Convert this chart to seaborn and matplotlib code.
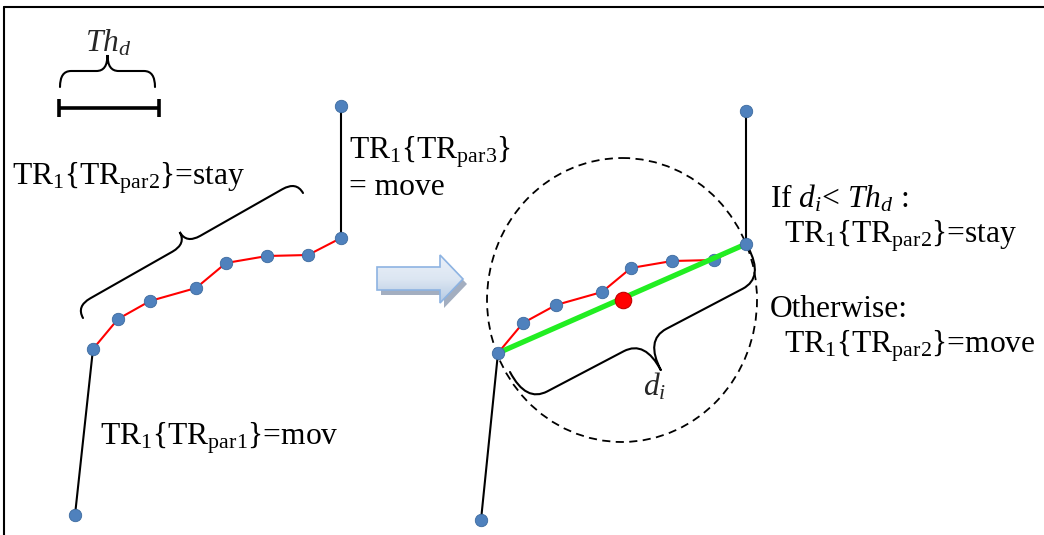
import numpy as np
import matplotlib
matplotlib.use('Agg')
import matplotlib.pyplot as plt
import seaborn as sns
from matplotlib.path import Path
from matplotlib.patches import PathPatch, Ellipse, Polygon
from matplotlib.colors import LinearSegmentedColormap

# ---- data (pixel coordinates) ----
left_x = [75, 93, 118, 150, 196, 226, 267, 308, 341, 341]
left_y = [515, 349, 319, 301, 288, 263, 256, 255, 238, 106]
right_x = [481, 498, 523, 556, 602, 631, 672, 714, 746, 746]
right_y = [520, 353, 323, 305, 292, 268, 261, 260, 244, 111]
center_x = [623]
center_y = [300]

sns.set_style('white')
plt.rcParams['font.family'] = ['Liberation Serif', 'DejaVu Serif']
plt.rcParams['mathtext.fontset'] = 'custom'
plt.rcParams['mathtext.rm'] = 'Liberation Serif'
plt.rcParams['mathtext.it'] = 'Liberation Serif:italic'
plt.rcParams['mathtext.bf'] = 'Liberation Serif:bold'

fig = plt.figure(figsize=(10.44, 5.35), dpi=100)
ax = fig.add_axes([0, 0, 1, 1])

BLUE = '#4f81bd'
BLUE_EDGE = '#3c6a9e'


def trajectory(xs, ys):
    sns.lineplot(x=xs[0:2], y=ys[0:2], sort=False, estimator=None,
                 color='black', lw=1.5, ax=ax, zorder=2)
    sns.lineplot(x=xs[1:9], y=ys[1:9], sort=False, estimator=None,
                 color='#ff0000', lw=1.5, ax=ax, zorder=2)
    sns.lineplot(x=xs[8:10], y=ys[8:10], sort=False, estimator=None,
                 color='black', lw=1.5, ax=ax, zorder=2)
    ends = [0, 1, 8, 9]
    mids = [2, 3, 4, 5, 6, 7]
    sns.scatterplot(x=[xs[i] for i in mids], y=[ys[i] for i in mids], s=80,
                    color=BLUE, edgecolor=BLUE_EDGE, linewidth=0.6, ax=ax,
                    zorder=3)
    sns.scatterplot(x=[xs[i] for i in ends], y=[ys[i] for i in ends], s=80,
                    color=BLUE, edgecolor=BLUE_EDGE, linewidth=0.6, ax=ax,
                    zorder=6)


trajectory(left_x, left_y)
trajectory(right_x, right_y)

# green chord between the ends of the stay-part
sns.lineplot(x=[right_x[1], right_x[8]], y=[right_y[1], right_y[8]],
             sort=False, estimator=None, color='#22ee22', lw=3.8, ax=ax,
             zorder=4)
sns.scatterplot(x=center_x, y=center_y, s=140, color='#ff0000',
                edgecolor='#c00000', linewidth=0.8, ax=ax, zorder=7)

# dashed circle
ax.add_patch(Ellipse((622, 300), 270, 284, fill=False, ls=(0, (4.5, 3)),
                     lw=1.3, color='black', zorder=1))


def brace(p0, p1, h, q):
    p0 = np.array(p0, float)
    p1 = np.array(p1, float)
    d = p1 - p0
    L = np.hypot(*d)
    u = d / L
    n = np.array([-u[1], u[0]])
    loc = [(0, 0), (0, h / 2), (q, h / 2), (L / 2 - q, h / 2),
           (L / 2, h / 2), (L / 2, h), (L / 2, h / 2), (L / 2 + q, h / 2),
           (L - q, h / 2), (L, h / 2), (L, 0)]
    codes = [Path.MOVETO, Path.CURVE3, Path.CURVE3, Path.LINETO,
             Path.CURVE3, Path.CURVE3, Path.CURVE3, Path.CURVE3,
             Path.LINETO, Path.CURVE3, Path.CURVE3]
    pts = [p0 + a * u + b * n for a, b in loc]
    ax.add_patch(PathPatch(Path(pts, codes), fill=False, lw=1.5,
                           color='black', zorder=5, capstyle='round'))


brace((60, 87), (155, 87), -32, 11)
brace((83, 318), (303, 193), -27, 16)
brace((510, 372), (748, 247), 69, 24)

# Th_d scale bar
ax.plot([58, 160], [108, 108], color='black', lw=2.6, solid_capstyle='butt')
ax.plot([59, 59], [99, 117], color='black', lw=2.6, solid_capstyle='butt')
ax.plot([159, 159], [99, 117], color='black', lw=2.6, solid_capstyle='butt')

# block arrow
arrow_pts = [(377, 267), (440, 267), (440, 255), (463, 279), (440, 303),
             (440, 290), (377, 290)]
ax.add_patch(Polygon([(x + 4, y + 5) for x, y in arrow_pts],
                     facecolor='#a3aec0', edgecolor='none', zorder=2))
main = Polygon(arrow_pts, facecolor='none', edgecolor='#8db3e2', lw=1.2,
               zorder=4)
ax.add_patch(main)
grad = np.linspace(0, 1, 100).reshape(-1, 1)
cmap = LinearSegmentedColormap.from_list('g', ['#eaf0f9', '#dce6f2', '#b4c9e3'])
im = ax.imshow(grad, extent=(377, 463, 303, 255), cmap=cmap, aspect='auto',
               zorder=3)
im.set_clip_path(main)

# frame (left and top edge)
ax.plot([4, 4], [7, 535], color='black', lw=1.5)
ax.plot([4, 1044], [7, 7], color='black', lw=1.5)

FS = 22.7
kw = dict(fontsize=FS, va='baseline', ha='left', color='black')
ax.text(108, 52, r'$Th_d$', fontsize=FS, va='baseline', ha='center')
ax.text(12, 184, r'TR$_1${TR$_{\mathrm{par2}}$}=stay', **kw)
ax.text(349, 158, r'TR$_1${TR$_{\mathrm{par3}}$}', **kw)
ax.text(349, 195, r'= move', **kw)
ax.text(100, 445, r'TR$_1${TR$_{\mathrm{par1}}$}=mov', **kw)
ax.text(655, 396, r'$d_i$', fontsize=FS, va='baseline', ha='center')
ax.text(770, 208, r'If $d_i$< $Th_d$ :', **kw)
ax.text(784, 243, r'TR$_1${TR$_{\mathrm{par2}}$}=stay', **kw)
ax.text(770, 317, r'Otherwise:', **kw)
ax.text(784, 353, r'TR$_1${TR$_{\mathrm{par2}}$}=move', **kw)

ax.set_xlim(0, 1044)
ax.set_ylim(535, 0)
ax.axis('off')
fig.savefig('out.png', dpi=100)
